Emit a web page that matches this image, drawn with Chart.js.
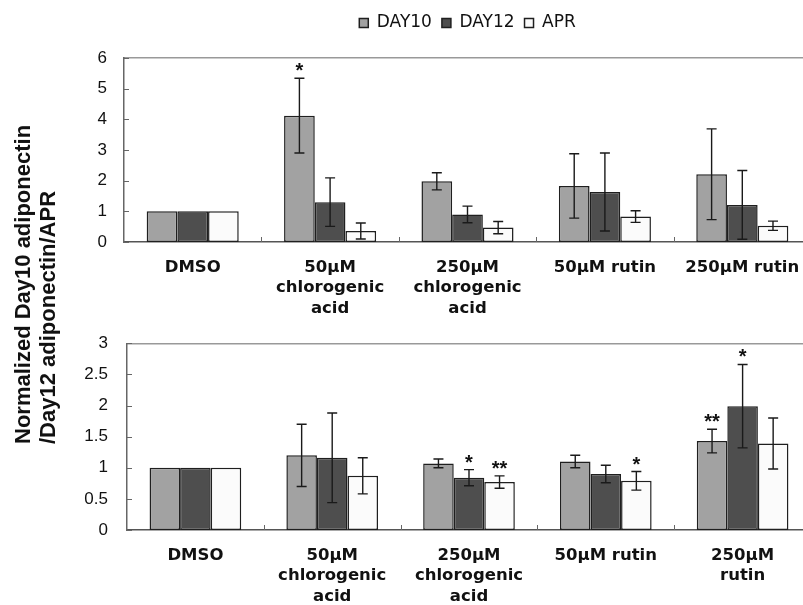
<!DOCTYPE html>
<html>
<head>
<meta charset="utf-8">
<script src="https://cdn.jsdelivr.net/npm/chart.js@4"></script>
<style>
  body { margin: 0; background: #fff; overflow: hidden; width: 803px; height: 605px; position: relative; }
  #top-chart { position: absolute; left: 0; top: 0; }
  #bottom-chart { position: absolute; left: 0; top: 330px; }
  #y-title {
    position: absolute; left: 10px; top: 444px;
    transform-origin: 0 0; transform: rotate(-90deg);
    font: bold 22px "Liberation Sans", Arial, sans-serif; line-height: 25px;
    color: #111; white-space: nowrap;
  }
</style>
</head>
<body>
<canvas id="top-chart" width="840" height="330"></canvas>
<canvas id="bottom-chart" width="840" height="280"></canvas>
<div id="y-title">Normalized Day10 adiponectin<br>/Day12 adiponectin/APR</div>
<script>
// categories
const topLabels = ['DMSO', ['50μM', 'chlorogenic', 'acid'], ['250μM', 'chlorogenic', 'acid'], '50μM rutin', '250μM rutin'];
const bottomLabels = ['DMSO', ['50μM', 'chlorogenic', 'acid'], ['250μM', 'chlorogenic', 'acid'], '50μM rutin', ['250μM', 'rutin']];
const seriesNames = ['DAY10', 'DAY12', 'APR'];

// upper panel
const topDay10 = [1, 4.12, 1.98, 1.83, 2.21];
const topDay10Err = [0, 1.22, 0.28, 1.05, 1.48];
const topDay12 = [1, 1.30, 0.90, 1.63, 1.21];
const topDay12Err = [0, 0.79, 0.27, 1.27, 1.12];
const topApr = [1, 0.36, 0.47, 0.83, 0.53];
const topAprErr = [0, 0.26, 0.20, 0.19, 0.15];
const topDay10Sig = ['', '*', '', '', ''];
const topDay12Sig = ['', '', '', '', ''];
const topAprSig = ['', '', '', '', ''];

// lower panel
const botDay10 = [1, 1.20, 1.07, 1.10, 1.43];
const botDay10Err = [0, 0.50, 0.07, 0.10, 0.19];
const botDay12 = [1, 1.16, 0.84, 0.90, 1.99];
const botDay12Err = [0, 0.72, 0.13, 0.14, 0.67];
const botApr = [1, 0.87, 0.77, 0.79, 1.39];
const botAprErr = [0, 0.29, 0.10, 0.15, 0.41];
const botDay10Sig = ['', '', '', '', '**'];
const botDay12Sig = ['', '', '*', '', '*'];
const botAprSig = ['', '', '**', '*', ''];

const fills = ['#a2a2a2', '#4e4e4e', '#fbfbfb'];

// error bars, significance marks and the inward tick marks
const extras = {
    id: 'extras',
    afterDatasetsDraw(chart) {
        const ctx = chart.ctx;
        const xs = chart.scales.x, ys = chart.scales.y;
        const area = chart.chartArea;
        ctx.save();
        ctx.strokeStyle = '#1a1a1a';
        ctx.lineWidth = 1.4;
        chart.data.datasets.forEach((ds, di) => {
            const meta = chart.getDatasetMeta(di);
            meta.data.forEach((bar, i) => {
                const e = ds.err[i];
                const yt = ys.getPixelForValue(ds.data[i] + e);
                if (e) {
                    const yb = ys.getPixelForValue(ds.data[i] - e);
                    ctx.beginPath();
                    ctx.moveTo(bar.x, yt); ctx.lineTo(bar.x, yb);
                    ctx.moveTo(bar.x - 5, yt); ctx.lineTo(bar.x + 5, yt);
                    ctx.moveTo(bar.x - 5, yb); ctx.lineTo(bar.x + 5, yb);
                    ctx.stroke();
                }
                if (ds.sig[i]) {
                    ctx.fillStyle = '#111';
                    ctx.font = 'bold 20px "Liberation Sans", Arial, sans-serif';
                    ctx.textAlign = 'center';
                    ctx.textBaseline = 'alphabetic';
                    ctx.fillText(ds.sig[i], bar.x, yt - 1);
                }
            });
        });
        ctx.strokeStyle = '#666';
        ctx.lineWidth = 1;
        ctx.beginPath();
        ys.ticks.forEach(t => {
            const py = Math.round(ys.getPixelForValue(t.value)) + 0.5;
            ctx.moveTo(area.left, py); ctx.lineTo(area.left + 5, py);
        });
        for (let i = 0; i < xs.ticks.length - 1; i++) {
            const px = Math.round((xs.getPixelForValue(i) + xs.getPixelForValue(i + 1)) / 2) + 0.5;
            ctx.moveTo(px, area.bottom); ctx.lineTo(px, area.bottom - 5);
        }
        ctx.stroke();
        ctx.restore();
    }
};

function makeChart(canvasId, labels, values, errs, sigs, yMax, yStep, yWidth, yPad, xHeight, topGap, showLegend, padTop) {
    const datasets = seriesNames.map((name, k) => ({
        label: name,
        data: values[k],
        err: errs[k],
        sig: sigs[k],
        backgroundColor: fills[k],
        borderColor: '#1f1f1f',
        borderWidth: 1.5,
        borderSkipped: false,
        categoryPercentage: 0.67,
        barPercentage: 1.0
    }));
    return new Chart(document.getElementById(canvasId), {
        type: 'bar',
        data: { labels: labels, datasets: datasets },
        options: {
            responsive: false,
            animation: false,
            layout: { padding: { top: padTop, right: 29, left: 0, bottom: 0 } },
            plugins: {
                tooltip: { enabled: false },
                legend: {
                    display: showLegend,
                    position: 'top',
                    fullSize: false,
                    labels: {
                        font: { family: '"DejaVu Sans", sans-serif', size: 17 },
                        color: '#111',
                        boxWidth: 9,
                        boxHeight: 9,
                        padding: 10
                    }
                }
            },
            scales: {
                x: {
                    grid: { display: false, drawTicks: false },
                    border: { display: true, color: '#555', width: 1.5 },
                    ticks: {
                        font: { family: '"DejaVu Sans", sans-serif', size: 16.5, weight: 'bold', lineHeight: 1.26 },
                        color: '#111',
                        padding: 15,
                        maxRotation: 0,
                        autoSkip: false
                    },
                    afterFit: s => { s.height = xHeight; }
                },
                x2: {
                    type: 'linear',
                    position: 'top',
                    grid: { display: false, drawTicks: false },
                    ticks: { display: false },
                    border: { display: true, color: '#999', width: 1.5 },
                    afterFit: s => { s.height = topGap; }
                },
                y: {
                    min: 0,
                    max: yMax,
                    // hidden grid; its tick length only spaces the labels from the axis
                    grid: { display: false, drawTicks: true, tickLength: yPad },
                    border: { display: true, color: '#666', width: 1.5 },
                    ticks: {
                        stepSize: yStep,
                        font: { family: '"Liberation Sans", Arial, sans-serif', size: 17 },
                        color: '#111',
                        padding: 0,
                        callback: v => String(v)
                    },
                    afterFit: s => { s.width = yWidth; }
                }
            }
        },
        plugins: [extras]
    });
}

makeChart('top-chart', topLabels,
    [topDay10, topDay12, topApr],
    [topDay10Err, topDay12Err, topAprErr],
    [topDay10Sig, topDay12Sig, topAprSig],
    6, 1, 124, 17, 88, 16.5, true, 4.5);

makeChart('bottom-chart', bottomLabels,
    [botDay10, botDay12, botApr],
    [botDay10Err, botDay12Err, botAprErr],
    [botDay10Sig, botDay12Sig, botAprSig],
    3, 0.5, 127, 19, 80, 13.3, false, 0);
</script>
</body>
</html>
